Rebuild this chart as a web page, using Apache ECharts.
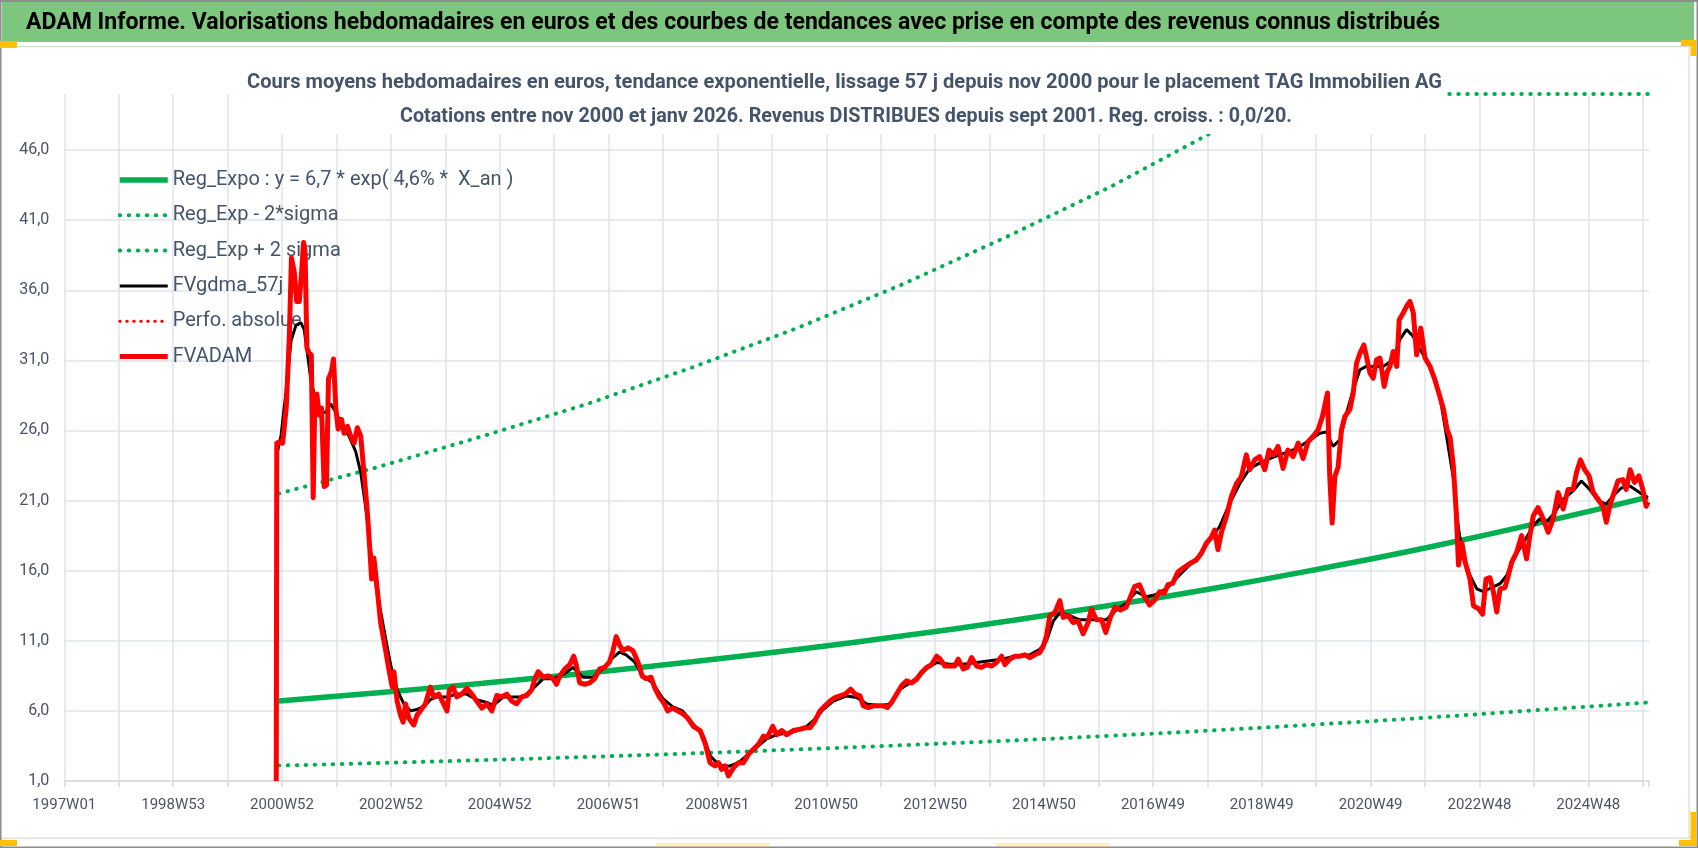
<!DOCTYPE html>
<html>
<head>
<meta charset="utf-8">
<script src="https://cdn.jsdelivr.net/npm/echarts@6.0.0/dist/echarts.min.js"></script>
<style>
html, body { margin: 0; padding: 0; background: #fff; }
#main { width: 1698px; height: 848px; }
</style>
</head>
<body>
<div id="main"></div>
<script>
// x = week index counted from 1997W01, one label every 104 weeks
const weekLabels = ['1997W01', '1998W53', '2000W52', '2002W52', '2004W52', '2006W51', '2008W51',
    '2010W50', '2012W50', '2014W50', '2016W49', '2018W49', '2020W49', '2022W48', '2024W48'];

const seriesNames = ['Reg_Expo : y = 6,7 * exp( 4,6% *  X_an )', 'Reg_Exp - 2*sigma', 'Reg_Exp + 2 sigma',
    'FVgdma_57j', 'Perfo. absolue', 'FVADAM'];

const regExpo = [[205,6.7],[300,7.3],[400,7.97],[500,8.71],[600,9.51],[700,10.38],[800,11.34],[900,12.39],
    [1000,13.53],[1100,14.77],[1200,16.14],[1300,17.62],[1400,19.25],[1513,21.25]];

const regMinus = [[205,2.1],[300,2.28],[400,2.49],[500,2.72],[600,2.97],[700,3.25],[800,3.55],[900,3.87],
    [1000,4.23],[1100,4.62],[1200,5.05],[1300,5.51],[1400,6.02],[1513,6.6]];

// above 50 the curve runs along the top of the plot
const regPlus = [[205,21.5],[300,23.4],[400,25.6],[500,27.9],[600,30.5],[700,33.3],[800,36.4],[900,39.8],
    [1000,43.4],[1050,45.4],[1100,47.4],[1130,48.6],[1160,50],[1513,50]];

const perfo = [];

const fvgdma = [[203,24.3],[207,25.6],[212,28.9],[216.6,32.4],[221.3,33.5],[226,33.7],[229.2,33.2],[232.4,31.4],
    [235.6,29.6],[240.3,28.1],[245,27.3],[249.8,27.3],[254.5,27.9],[259.4,27.3],[265.7,26.3],[272,25.6],
    [278.4,24.5],[283.2,23.0],[288,20.5],[292.7,17.4],[299,14.4],[305.4,11.8],[311.7,9.3],[318,7.5],
    [324.4,6.5],[330.7,6.0],[337,6.1],[343.4,6.3],[349.7,6.8],[356,7.0],[365.6,7.0],[375,7.2],[384.6,7.2],
    [394,6.8],[403.6,6.6],[410,6.4],[419.5,7.0],[429,7.0],[438.5,7.0],[448,7.6],[457.6,8.3],[467,8.3],
    [476.6,8.6],[486,9.1],[495.6,8.4],[505,8.4],[514.6,9.0],[524.2,9.8],[530.5,10.2],[536.8,10.0],
    [544.8,9.5],[552.6,8.5],[562,8.0],[571.7,6.9],[581,6.3],[590.7,6.0],[601,5.05],[610.6,4.2],[617,2.8],
    [623.4,2.3],[629.7,2.07],[636,2.07],[644,2.3],[652,2.8],[661.5,3.4],[671,4.0],[680.6,4.3],[693.4,4.45],
    [706,4.7],[715.6,5.3],[725,6.1],[734.7,6.7],[747.5,7.07],[757,6.95],[766.5,6.5],[779.3,6.36],
    [788.8,6.5],[798.4,7.55],[811,8.14],[823.8,9.0],[833.4,9.45],[846,9.33],[858.8,9.33],[871.6,9.45],
    [884.3,9.57],[897,9.7],[909.7,9.93],[922.5,10.0],[932,10.4],[938.4,11.0],[944.8,12.4],[951,13.0],
    [960.6,12.8],[970,12.5],[982.8,12.5],[995.5,12.5],[1005,13.2],[1014.5,13.67],[1024,14.5],[1033.6,14.14],
    [1041.6,14.26],[1052.8,14.7],[1064,15.57],[1075,16.4],[1084.7,17.1],[1094.2,18.2],[1103.8,19.14],
    [1113.4,20.8],[1123,22.2],[1132.5,23.3],[1142,23.67],[1151.6,24.0],[1161,24.26],[1170.6,24.5],
    [1180.4,24.86],[1190,25.33],[1199.6,25.8],[1206,25.9],[1212,24.86],[1218.6,25.33],[1225,27.24],
    [1231.4,28.9],[1237.8,30.33],[1244,30.57],[1250.5,30.57],[1260,30.57],[1269.7,31.05],[1276,32.5],
    [1282.4,33.2],[1288.8,32.7],[1295.2,31.76],[1301.6,31.05],[1308,29.86],[1314.3,28.4],[1321,25.4],
    [1327.3,22.5],[1332,19.0],[1336.8,16.85],[1343,15.66],[1349.5,14.7],[1355.8,14.5],[1363.7,14.8],
    [1371.7,15.07],[1378,15.66],[1384.4,16.85],[1394,18.0],[1403.4,19.2],[1409.8,19.7],[1416,19.45],
    [1424,20.16],[1432,21.1],[1441.5,21.7],[1449.4,22.4],[1457.3,21.8],[1465.3,21.0],[1473.2,20.75],
    [1479.6,21.34],[1487.5,21.9],[1495.4,22.05],[1505,21.57],[1513,21.2]];

const fvadam = [[202.5,1],[203,25.1],[205.5,25.2],[208.6,25.1],[212,27.6],[215,32.7],[217,38.3],[219.7,37.3],
    [222,35.2],[224.5,35.2],[226.7,37.3],[228.6,39.4],[230,38.8],[231.8,31.9],[234,31.5],[236,31.4],
    [237.8,21.2],[239.4,28.4],[241.3,28.6],[243.5,27.1],[245.7,27.6],[248.3,22.0],[250.5,22.1],[252.4,29.7],
    [255.2,30.2],[257.2,31.1],[259.4,27.6],[261.6,26.1],[264.8,26.8],[267.3,25.8],[270.5,26.3],[273.6,25.6],
    [276.8,25.1],[280,26.2],[283.2,25.6],[286.3,23.0],[289.5,20.2],[292,17.4],[293.6,15.4],[295.8,16.9],
    [298.4,15.1],[302.2,12.3],[307,10.3],[310,9.0],[313.3,7.7],[314.9,8.8],[318,6.7],[321.2,5.7],
    [323.7,5.2],[326,6.5],[329,5.5],[333.9,5.0],[337,5.7],[340.2,6.0],[345,6.5],[349.7,7.7],[352.9,7.0],
    [357.7,7.2],[362.4,6.5],[365.6,6.0],[368,7.5],[371.2,7.7],[375,7.0],[379.9,7.2],[384.6,7.6],[389.4,7.2],
    [394,6.7],[398.9,6.2],[403.6,6.5],[408.4,6.0],[413.2,7.1],[417.9,7.0],[422.7,7.2],[427.5,6.7],
    [432.2,6.5],[437,7.0],[441.7,7.1],[446.5,7.5],[449.6,8.3],[452.8,8.8],[457.6,8.4],[462.3,8.5],[467,8.3],
    [470.2,7.9],[473.4,8.5],[478.2,9.0],[482.9,9.3],[486.7,9.9],[489.3,9.2],[492.4,8.0],[497.2,7.9],
    [502,8.0],[506.7,8.3],[511.5,9.0],[516.2,9.1],[521,9.5],[524.2,10.3],[527.3,11.3],[530.5,10.7],
    [533.7,10.3],[538.4,10.5],[543.2,10.3],[547.9,9.5],[552,8.5],[555.8,8.3],[560.6,8.4],[563.8,7.7],
    [568.5,7.0],[573.3,6.5],[576.5,6.0],[581.2,6.2],[586,6.0],[590.7,5.8],[595.5,5.5],[601,4.9],[607.5,4.6],
    [612.2,3.7],[617,2.3],[621.8,2.07],[625,2.3],[628,1.83],[631.3,2.07],[634.5,1.36],[639.3,1.95],[644,2.3],
    [648.8,2.3],[653.6,2.9],[658.4,3.26],[663,3.6],[668,4.2],[671.7,4.1],[676.8,4.9],[680.6,4.3],[685.4,4.6],
    [690.2,4.3],[696.5,4.6],[702.9,4.7],[707.7,4.8],[712.5,4.8],[717.2,5.3],[722,6.0],[726.8,6.36],
    [731.6,6.7],[736.3,6.95],[741,7.07],[746,7.2],[751.3,7.55],[755.4,7.2],[760.2,7.07],[763.4,6.36],
    [768.1,6.24],[772.9,6.36],[777.7,6.36],[782.5,6.36],[786.3,6.24],[790.4,6.6],[795.2,7.2],[800,7.8],
    [804.7,8.14],[809.5,8.0],[814.3,8.26],[819,8.74],[823.8,9.1],[828.6,9.3],[833.4,9.9],[836.6,9.7],
    [841.3,9.2],[846.1,9.2],[850.9,9.2],[854,9.7],[858.8,9.0],[862.7,9.1],[866.8,9.8],[871.6,9.2],
    [876.3,9.1],[881.1,9.3],[885.9,9.2],[890.7,9.45],[895.5,9.9],[898.6,9.3],[903.4,9.7],[908.2,9.9],
    [913,9.9],[917.7,10.0],[922.5,9.8],[927.2,10.0],[932,10.17],[935.2,10.6],[938.4,11.36],[941.6,12.8],
    [946.3,13.0],[951.1,13.86],[954.3,12.67],[959,12.8],[963.8,12.3],[968.6,12.4],[973.4,11.5],[978.2,12.3],
    [981.3,13.26],[986.1,12.5],[990.9,12.5],[995,11.6],[999.5,12.7],[1004,13.4],[1009,13.2],[1014.5,13.4],
    [1019.3,14.26],[1022.5,14.86],[1027.2,15.0],[1032,14.14],[1036.8,13.55],[1041.6,13.9],[1046.4,14.5],
    [1051,14.4],[1054.4,15.0],[1059,15.1],[1063.9,15.9],[1068.7,16.17],[1075,16.5],[1081.5,16.76],
    [1086.3,17.24],[1091,17.95],[1096,18.4],[1099,18.9],[1102.2,17.5],[1105.4,18.7],[1110.2,19.86],
    [1115,21.3],[1119.8,22.2],[1124.5,22.7],[1129.3,24.26],[1132.5,23.2],[1137.3,23.9],[1142,24.14],
    [1146.9,23.2],[1151,24.6],[1155,24.26],[1159.6,24.86],[1164.4,23.3],[1169,24.6],[1174,24.14],
    [1178.8,25.1],[1183.5,24.0],[1188.3,25.2],[1193,25.57],[1197.9,26.05],[1202,27.0],[1206.8,28.67],
    [1209,22.7],[1211.3,19.4],[1213.8,22.7],[1217,23.4],[1220.2,26.05],[1223.4,27.0],[1228.2,27.5],
    [1231.4,28.67],[1234.6,30.8],[1237.8,31.5],[1241.6,32.1],[1244,31.3],[1247.4,30.1],[1250.5,29.74],
    [1253.7,31.05],[1257,31.17],[1261,29.14],[1264,30.2],[1266.5,30.57],[1269.7,31.64],[1273,30.57],
    [1275.4,33.9],[1279.3,34.4],[1282.4,34.86],[1285.6,35.2],[1288.8,34.4],[1292,31.4],[1296,33.3],
    [1300,31.17],[1304.8,30.57],[1309.5,29.6],[1314.3,28.4],[1317.7,27.5],[1321,26.07],[1324,25.5],
    [1327,23.5],[1329.8,20.2],[1332,16.4],[1335.2,18.0],[1338.4,16.6],[1343,15.4],[1346.3,13.5],
    [1351,13.3],[1355,12.9],[1358.3,15.4],[1362,15.5],[1365.3,14.5],[1368.5,13.06],[1371.7,14.7],
    [1376.4,14.8],[1379.6,15.66],[1382.8,16.6],[1387.5,17.3],[1392.3,18.5],[1397,16.85],[1400.2,18.5],
    [1403.4,19.9],[1408,20.5],[1412.9,19.7],[1417.7,18.74],[1422.4,19.7],[1427.2,21.57],[1432,20.4],
    [1436.7,21.8],[1441.5,21.8],[1444.7,23.0],[1448.5,23.9],[1452.6,23.2],[1456.7,22.76],[1460.5,21.6],
    [1465.3,21.1],[1470,20.6],[1473.2,19.45],[1476.4,20.6],[1479.6,21.34],[1484.3,22.4],[1489,22.5],
    [1492.2,21.8],[1496,23.2],[1500.2,22.3],[1504.3,22.76],[1508.1,21.8],[1511.3,20.6],[1513,20.9]];

const headerText = 'ADAM Informe. Valorisations hebdomadaires en euros et des courbes de tendances avec prise en compte des revenus connus distribués';
const subLine1 = 'Cours moyens hebdomadaires en euros, tendance exponentielle, lissage 57 j depuis nov 2000 pour le placement TAG Immobilien AG';
const subLine2 = 'Cotations entre nov 2000 et janv 2026. Revenus DISTRIBUES depuis sept 2001. Reg. croiss. : 0,0/20.';

const FONT = 'Roboto';
const green = '#00b050';
const slate = '#44546a';

// squeeze text horizontally to the width it takes in the reference (narrow font there)
const measureCtx = document.createElement('canvas').getContext('2d');
function fitScale(text, weight, size, width) {
    measureCtx.font = weight + ' ' + size + 'px ' + FONT;
    return width / measureCtx.measureText(text).width;
}

function textEl(text, x, y, weight, size, width, align, color) {
    return {
        type: 'text', x: x, y: y, z: 101, scaleX: fitScale(text, weight, size, width),
        style: { text: text, fontFamily: FONT, fontWeight: weight, fontSize: size,
            fill: color, align: align, verticalAlign: 'middle' }
    };
}

function rect(x, y, w, h, color, z) {
    return { type: 'rect', z: z || 100, silent: true, shape: { x: x, y: y, width: w, height: h }, style: { fill: color } };
}

function dotted(color, width, gap) {
    return { color: color, width: width, type: [0.5, gap], cap: 'round' };
}

let myChart = echarts.init(document.getElementById('main'), null, { renderer: 'canvas' });

let options = {
    animation: false,
    backgroundColor: '#ffffff',
    grid: { left: 64.3, right: 49, top: 94, bottom: 67 },
    legend: {
        orient: 'vertical', left: 117, top: 168, padding: 0, z: 1,
        itemWidth: 48, itemHeight: 14, itemGap: 11.3,
        textStyle: { fontFamily: FONT, fontSize: 20, color: slate, lineHeight: 24 },
        lineStyle: { width: 'inherit', type: 'inherit' },
        itemStyle: { opacity: 0 },
        data: seriesNames
    },
    xAxis: {
        type: 'value', min: 0, max: 1514, interval: 52,
        axisLine: { lineStyle: { color: '#d9d9d9', width: 1.5 } },
        axisTick: { show: true, length: 6, lineStyle: { color: '#d9d9d9', width: 1.5 } },
        axisLabel: {
            margin: 17, fontFamily: FONT, fontSize: 15, color: '#4a5464',
            formatter: v => (v % 104 === 0 ? weekLabels[v / 104] : '')
        },
        splitLine: { show: true, showMaxLine: false, lineStyle: { color: '#dfe3e9', width: 1.5 } }
    },
    yAxis: {
        type: 'value', min: 1, max: 50, interval: 5,
        axisLine: { show: false }, axisTick: { show: false },
        axisLabel: {
            margin: 15, fontFamily: FONT, fontSize: 16, color: '#4a5464',
            formatter: v => ((v - 1) % 5 === 0 ? v.toFixed(1).replace('.', ',') : '')
        },
        splitLine: { show: true, showMaxLine: false, lineStyle: { color: '#dfe3e9', width: 1.5 } }
    },
    series: [
        { name: seriesNames[0], type: 'line', data: regExpo, symbol: 'none', smooth: true,
            lineStyle: { color: green, width: 5.5 }, itemStyle: { color: green } },
        { name: seriesNames[1], type: 'line', data: regMinus, symbol: 'none', smooth: true,
            lineStyle: dotted(green, 4, 8.5), itemStyle: { color: green } },
        { name: seriesNames[2], type: 'line', data: regPlus, symbol: 'none', clip: false,
            lineStyle: dotted(green, 4, 8.5), itemStyle: { color: green } },
        { name: seriesNames[3], type: 'line', data: fvgdma, symbol: 'none',
            lineStyle: { color: '#000000', width: 3 }, itemStyle: { color: '#000000' } },
        { name: seriesNames[4], type: 'line', data: perfo, symbol: 'none',
            lineStyle: dotted('#ff0000', 3, 6.5), itemStyle: { color: '#ff0000' } },
        { name: seriesNames[5], type: 'line', data: fvadam, symbol: 'none',
            lineStyle: { color: '#ff0000', width: 5, join: 'round' }, itemStyle: { color: '#ff0000' } }
    ],
    graphic: [
        // sheet frame, green header band
        rect(0, 0, 1698, 2, '#8c8c8c', 5),
        rect(2, 2, 1692, 40, '#7dc67d', 5),
        rect(0, 46, 1690, 1.2, '#d9d9d9', 5),
        rect(0, 837.5, 1690, 1.2, '#d9d9d9', 5),
        rect(1688.5, 46, 1.2, 792, '#d9d9d9', 5),
        rect(0, 0, 1.5, 848, '#8c8c8c', 5),
        rect(0, 846.5, 1698, 1.5, '#8c8c8c', 5),
        rect(1696.5, 0, 1.5, 848, '#8c8c8c', 5),
        // selection handles
        rect(0, 41, 17, 7, '#ffc000', 6),
        rect(0, 840, 17, 6, '#ffc000', 6),
        rect(1681, 40, 15, 6, '#ffc000', 6),
        rect(1690.5, 40, 6, 16, '#ffc000', 6),
        rect(1679, 840, 18, 6, '#ffc000', 6),
        rect(1690.5, 812, 6, 34, '#ffc000', 6),
        rect(656, 843, 114, 3, '#fff2a8', 6),
        rect(996, 843, 114, 3, '#fff2a8', 6),
        textEl(headerText, 26, 23.5, 'bold', 23.5, 1414, 'left', '#000000'),
        // subtitle box hides the plot behind it, as in the sheet
        rect(243, 58, 1204, 76, '#ffffff', 100),
        textEl(subLine1, 844.5, 83, 'bold', 21, 1195, 'center', slate),
        textEl(subLine2, 846, 117, 'bold', 21, 892, 'center', slate)
    ]
};

myChart.setOption(options);
</script>
</body>
</html>
